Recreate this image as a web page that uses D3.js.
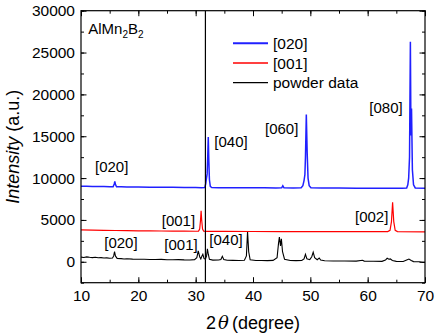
<!DOCTYPE html>
<html><head><meta charset="utf-8">
<script src="https://cdn.jsdelivr.net/npm/d3@7"></script>
<style>body{margin:0;background:#fff;}svg{display:block;font-family:"Liberation Sans",Arial,sans-serif;}</style>
</head><body>
<script>
// ---- data ----
const xTicks = [10,20,30,40,50,60,70];
const yTicks = [0,5000,10000,15000,20000,25000,30000];
const refLine = 31.7;

const blueSeries = [[10,9020],[11,9010],[12,9000],[13,8990],[14,8980],[15,8970],[15.6,8960],[15.8,9300],[15.9,9590],[16.0,9250],[16.2,8960],[17,8950],[18,8940],[20,8920],[22,8910],[24,8900],[26,8890],[28,8880],[30,8870],[31,8860],[31.6,8880],[31.75,9300],[31.85,9800],[32.0,10500],[32.1,12500],[32.2,14900],[32.3,12000],[32.4,9800],[32.55,9000],[32.8,8870],[34,8860],[36,8850],[38,8850],[40,8840],[42,8840],[44,8830],[45,8840],[45.2,9080],[45.4,8840],[47,8830],[48.4,8840],[48.7,9100],[48.9,9700],[49.05,10400],[49.15,12500],[49.3,17600],[49.45,13000],[49.6,10000],[49.8,9100],[50.1,8840],[52,8820],[55,8810],[58,8800],[61,8800],[64,8790],[66,8790],[66.8,8820],[67.0,9200],[67.15,10000],[67.3,12500],[67.45,26300],[67.55,15100],[67.65,18300],[67.8,11000],[68.0,9200],[68.3,8820],[70,8780]];

const redSeries = [[10,3800],[12,3780],[14,3760],[16,3740],[18,3720],[20,3700],[22,3690],[24,3680],[26,3670],[28,3660],[30,3650],[30.5,3660],[30.7,3900],[30.85,5000],[30.95,6100],[31.05,5000],[31.2,3900],[31.4,3650],[32,3640],[35,3630],[40,3620],[45,3610],[50,3600],[55,3600],[60,3600],[63.5,3600],[63.9,3750],[64.15,4800],[64.35,7100],[64.55,4800],[64.8,3750],[65.2,3600],[70,3580]];

const blackSeries = [[10,560],[10.5,520],[11,590],[11.5,540],[12,500],[12.5,540],[13,480],[13.5,500],[14,450],[14.5,470],[15,430],[15.5,450],[15.7,700],[15.85,1200],[16.0,700],[16.3,400],[17,380],[17.5,340],[18,360],[19,320],[20,300],[21,310],[22,280],[23,270],[24,290],[25,250],[26,240],[27,260],[28,230],[29,220],[29.8,260],[30.2,500],[30.45,1300],[30.7,600],[30.9,350],[31.1,700],[31.25,900],[31.45,400],[31.7,300],[31.9,700],[32.05,1550],[32.2,900],[32.4,300],[33,200],[34,210],[34.4,280],[34.65,650],[34.9,280],[35.5,180],[36.5,170],[37.5,160],[38.5,190],[38.85,700],[39.05,3600],[39.25,1200],[39.5,250],[40.5,160],[41.5,150],[42.5,140],[43.5,170],[44.2,500],[44.45,2200],[44.6,2950],[44.8,1900],[44.95,2750],[45.15,1200],[45.5,300],[46.5,150],[47.5,140],[48.5,150],[48.9,350],[49.15,900],[49.4,350],[49.9,250],[50.25,600],[50.5,1150],[50.75,500],[51.2,250],[51.55,450],[51.8,200],[52.5,120],[54,100],[56,90],[58,80],[59.1,180],[59.4,80],[61,60],[62.5,50],[63.1,200],[63.4,420],[63.7,300],[63.95,350],[64.3,150],[65,50],[66.2,30],[66.8,200],[67.2,320],[67.6,150],[68,20],[69,0],[69.5,-50],[70,-80]];

const legendLabels = ["[020]","[001]","powder data"];
const seriesColors = ["#2020ff","#ff0000","#000000"];

const peakLabels = [
  {t:"[020]",x:12.44,y:10730},{t:"[040]",x:33.25,y:13715},{t:"[060]",x:42.09,y:15210},{t:"[080]",x:60.29,y:17720},
  {t:"[001]",x:24.08,y:4275},{t:"[002]",x:57.79,y:4750},
  {t:"[020]",x:14.06,y:1650},{t:"[001]",x:24.53,y:1410},{t:"[040]",x:32.38,y:2005}
];

// ---- chart ----
const W=436,H=336, m={l:81,r:11,t:10.7,b:53.3};
const svg=d3.select("body").append("svg").attr("width",W).attr("height",H);
const x=d3.scaleLinear().domain([10,70]).range([m.l,W-m.r]);
const y=d3.scaleLinear().domain([-2500,30000]).range([H-m.b,m.t]);

svg.append("clipPath").attr("id","c").append("rect")
  .attr("x",m.l).attr("y",m.t).attr("width",W-m.l-m.r).attr("height",H-m.t-m.b);

const line=d3.line().x(d=>x(d[0])).y(d=>y(d[1]));
const g=svg.append("g").attr("clip-path","url(#c)");
g.append("path").datum(blackSeries).attr("d",line).attr("fill","none").attr("stroke",seriesColors[2]).attr("stroke-width",1.1);
g.append("path").datum(redSeries).attr("d",line).attr("fill","none").attr("stroke",seriesColors[1]).attr("stroke-width",1.2);
g.append("path").datum(blueSeries).attr("d",line).attr("fill","none").attr("stroke",seriesColors[0]).attr("stroke-width",1.5);
g.append("line").attr("x1",x(refLine)).attr("x2",x(refLine)).attr("y1",y(-2500)).attr("y2",y(30000))
  .attr("stroke","#000").attr("stroke-width",1.2);

// axes
const minorX=d3.range(10,70.1,5), minorY=d3.range(-2500,30001,2500);
function ax(gen,tr,major,minor,labels,pad){
  const a=svg.append("g").attr("transform",tr);
  a.call(gen(minor).tickValues(minor).tickSize(-3).tickFormat(""));
  const b=svg.append("g").attr("transform",tr);
  b.call(gen(major).tickValues(major).tickSize(-5.5).tickPadding(labels?pad:0).tickFormat(labels?d3.format("d"):""));
  [a,b].forEach(s=>{s.select(".domain").remove();s.selectAll("line").attr("stroke","#000").attr("stroke-width",1);});
  b.selectAll("text").attr("font-size","15.5px").attr("fill","#000");
  return b;
}
ax(()=>d3.axisBottom(x),`translate(0,${H-m.b})`,xTicks,minorX,true,7);
ax(()=>d3.axisTop(x),`translate(0,${m.t})`,xTicks,minorX,false,0);
ax(()=>d3.axisLeft(y),`translate(${m.l},0)`,yTicks,minorY,true,6);
ax(()=>d3.axisRight(y),`translate(${W-m.r},0)`,yTicks,minorY,false,0);
svg.append("rect").attr("x",m.l).attr("y",m.t).attr("width",W-m.l-m.r).attr("height",H-m.t-m.b)
  .attr("fill","none").attr("stroke","#000").attr("stroke-width",1.2);

// titles
const xt=svg.append("text").attr("x",(m.l+W-m.r)/2).attr("y",329).attr("text-anchor","middle").attr("font-size","18px");
xt.append("tspan").text("2");
xt.append("tspan").attr("font-style","italic").attr("font-family","'DejaVu Serif',serif").attr("dx","2").text("θ");
xt.append("tspan").attr("dx","3").text("(degree)");
const yt=svg.append("text").attr("transform",`translate(19,${(m.t+H-m.b)/2}) rotate(-90)`).attr("text-anchor","middle").attr("font-size","18px");
yt.append("tspan").attr("font-style","italic").text("Intensity");
yt.append("tspan").text(" (a.u.)");

// compound label
const cl=svg.append("text").attr("x",x(11.27)).attr("y",y(27160)).attr("font-size","15px");
cl.append("tspan").text("AlMn");
cl.append("tspan").attr("font-size","10px").attr("dy","4").text("2");
cl.append("tspan").attr("dy","-4").text("B");
cl.append("tspan").attr("font-size","10px").attr("dy","4").text("2");

// peak labels
svg.selectAll("text.pk").data(peakLabels).join("text").attr("class","pk")
  .attr("x",d=>x(d.x)).attr("y",d=>y(d.y)).attr("font-size","15px").text(d=>d.t);

// legend
const lg=svg.append("g");
legendLabels.forEach((t,i)=>{
  const yy=43.3+i*19.7;
  lg.append("line").attr("x1",233).attr("x2",268).attr("y1",yy).attr("y2",yy)
    .attr("stroke",seriesColors[i]).attr("stroke-width",i==0?2:1.3);
  lg.append("text").attr("x",273).attr("y",yy+5.5).attr("font-size","15.5px").text(t);
});
</script>
</body></html>
